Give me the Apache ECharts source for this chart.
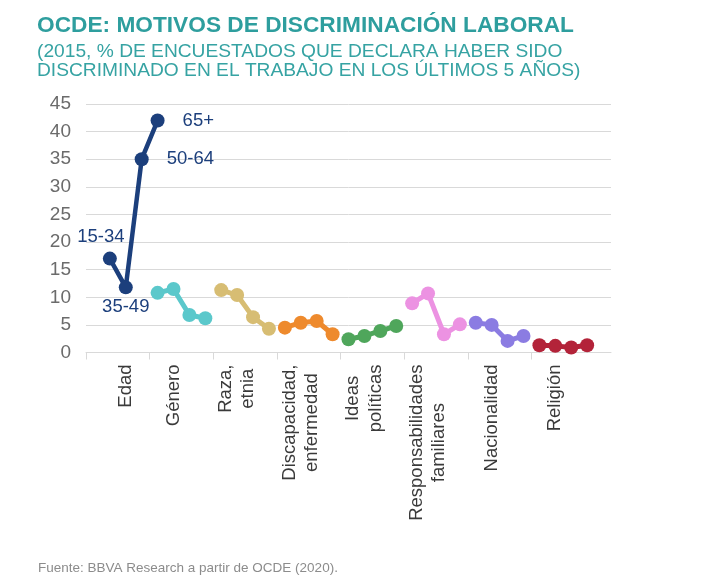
<!DOCTYPE html>
<html><head><meta charset="utf-8">
<script src="https://cdn.jsdelivr.net/npm/echarts@6/dist/echarts.min.js"></script>
<style>html,body{margin:0;padding:0;background:#fff}#c{width:708px;height:582px}</style>
</head><body><div id="c"></div>
<script>
// ---- data ----
const titleText = 'OCDE: MOTIVOS DE DISCRIMINACIÓN LABORAL';
const subtitleText = '(2015, % DE ENCUESTADOS QUE DECLARA HABER SIDO\nDISCRIMINADO EN EL TRABAJO EN LOS ÚLTIMOS 5 AÑOS)';
const sourceText = 'Fuente: BBVA Research a partir de OCDE (2020).';
const categories = ['Edad', 'Género', 'Raza,\netnia', 'Discapacidad,\nenfermedad', 'Ideas\npolíticas', 'Responsabilidades\nfamiliares', 'Nacionalidad', 'Religión'];
const ageGroups = ['15-34', '35-49', '50-64', '65+'];
const edad = [17.0, 11.8, 35.0, 42.0];
const genero = [10.8, 11.5, 6.8, 6.2];
const raza = [11.3, 10.4, 6.4, 4.3];
const discapacidad = [4.5, 5.4, 5.7, 3.3];
const ideas = [2.4, 3.0, 3.9, 4.8];
const responsabilidades = [8.9, 10.7, 3.3, 5.1];
const nacionalidad = [5.4, 5.0, 2.1, 3.0];
const religion = [1.3, 1.2, 0.9, 1.3];
const yTicks = [0, 5, 10, 15, 20, 25, 30, 35, 40, 45];

// ---- build ----
const groups = [edad, genero, raza, discapacidad, ideas, responsabilidades, nacionalidad, religion];
const colors = ['#1C3F7C', '#5BC8CB', '#D7BD73', '#EE8A2D', '#4FA65B', '#EC92E2', '#8B7CE2', '#B32339'];
const slotsPerGroup = ageGroups.length;
const groupStart = groups.map((g, i) => i === 0 ? 1 : i * slotsPerGroup);
const labelPos = groupStart.map(s => s + 1.5);
const tickPos = categories.map((c, i) => i * slotsPerGroup);
const xMax = categories.length * slotsPerGroup + 1;

const labelOpts = [
  { position: 'top', offset: [-9, 0] },
  { position: 'bottom', offset: [0, -2] },
  { position: 'right', distance: 18 },
  { position: 'right', distance: 18 }
];

const series = groups.map((vals, gi) => ({
  type: 'line',
  data: vals.map((v, j) => {
    const d = { value: [groupStart[gi] + j + 0.5, v] };
    if (gi === 0) {
      d.label = Object.assign({
        show: true, formatter: ageGroups[j], color: '#1C3F7C',
        fontFamily: 'Liberation Sans', fontSize: 18.5
      }, labelOpts[j]);
    }
    return d;
  }),
  symbol: 'circle',
  symbolSize: 14,
  showSymbol: true,
  color: colors[gi],
  lineStyle: { width: gi === 0 ? 4.5 : 5, color: colors[gi] },
  itemStyle: { color: colors[gi] },
  emphasis: { disabled: true },
  z: 2 + gi
}));

const chart = echarts.init(document.getElementById('c'), null, { renderer: 'canvas' });
chart.setOption({
  animation: false,
  backgroundColor: '#fff',
  textStyle: { fontFamily: 'Liberation Sans' },
  title: [
    { text: titleText, left: 32, top: 9, textStyle: { fontFamily: 'Liberation Sans', fontSize: 22.7, fontWeight: 'bold', color: '#2E9E9E' } },
    { text: subtitleText, left: 32, top: 36.5, textStyle: { fontFamily: 'Liberation Sans', fontSize: 19.2, fontWeight: 'normal', color: '#36A3A3', lineHeight: 19.7 } },
    { text: sourceText, left: 33, top: 556, textStyle: { fontFamily: 'Liberation Sans', fontSize: 13.5, fontWeight: 'normal', color: '#8C8C8C' } }
  ],
  grid: { left: 86, right: 97, top: 104, bottom: 229.5, containLabel: false },
  xAxis: {
    type: 'value', min: 0, max: xMax,
    splitLine: { show: false },
    axisLine: { show: true, onZero: false, lineStyle: { color: '#D9D9D9', width: 1 } },
    axisTick: { show: true, length: 7, customValues: tickPos, lineStyle: { color: '#D9D9D9' } },
    axisLabel: {
      show: true, rotate: 90, margin: 12, customValues: labelPos,
      formatter: (v) => {
        const i = labelPos.indexOf(v);
        if (i < 0) return '';
        return categories[i].split('\n').map(l => '{c|' + l + '}').join('\n');
      },
      rich: { c: { align: 'center', fontFamily: 'Liberation Sans', fontSize: 18.5, color: '#3A3A3A', lineHeight: 22.3 } },
      fontFamily: 'Liberation Sans', fontSize: 18.5, color: '#3A3A3A'
    }
  },
  yAxis: {
    type: 'value', min: yTicks[0], max: yTicks[yTicks.length - 1], interval: yTicks[1] - yTicks[0],
    axisLine: { show: false }, axisTick: { show: false },
    splitLine: { show: true, lineStyle: { color: '#D9D9D9', width: 1 } },
    axisLabel: { margin: 15, fontFamily: 'Liberation Sans', fontSize: 19, color: '#6B6B6B' }
  },
  series: series
});
</script>
</body></html>
